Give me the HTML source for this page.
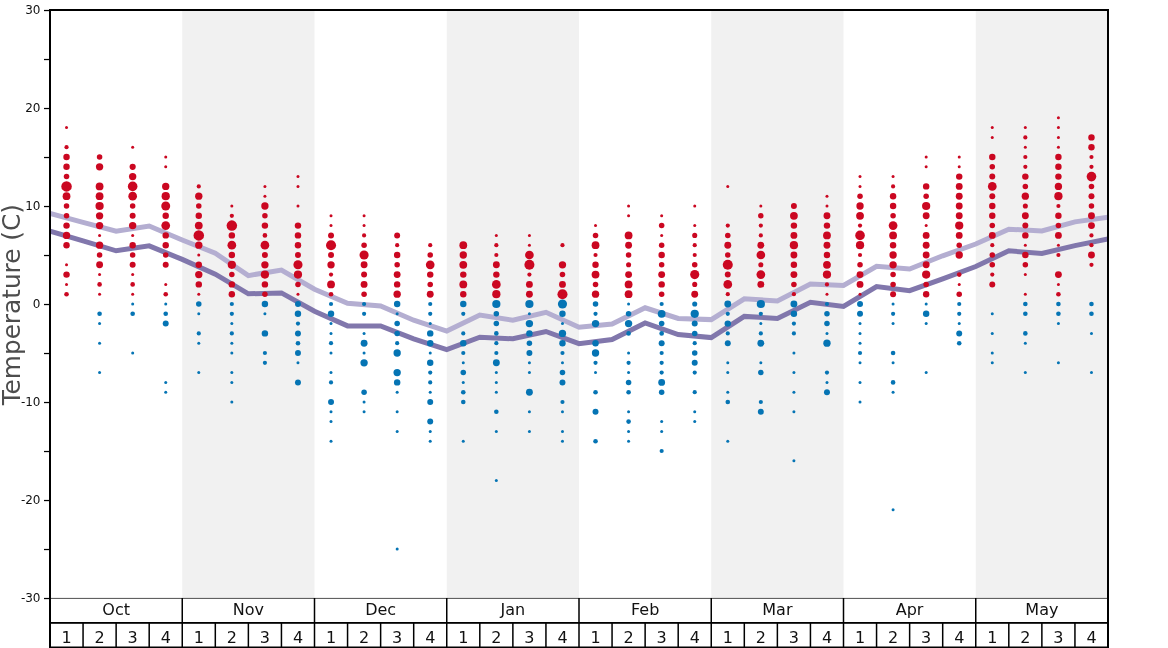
<!DOCTYPE html>
<html lang="en">
<head>
<meta charset="utf-8">
<title>Temperature (C)</title>
<style>
html,body{margin:0;padding:0;background:#fff;}
body{width:1168px;height:648px;overflow:hidden;}
svg{display:block;}
text{font-family:"DejaVu Sans","Liberation Sans",sans-serif;}
</style>
</head>
<body>
<svg width="1168" height="648" viewBox="0 0 1168 648">
<rect x="0" y="0" width="1168" height="648" fill="#ffffff"/>

<g fill="#f1f1f1">
<rect x="182.25" y="10" width="132.25" height="588"/>
<rect x="446.75" y="10" width="132.25" height="588"/>
<rect x="711.25" y="10" width="132.25" height="588"/>
<rect x="975.75" y="10" width="132.25" height="588"/>
</g>
<clipPath id="pa"><rect x="50" y="10" width="1058" height="588"/></clipPath>
<g clip-path="url(#pa)">
<polyline points="50.00,213.5 83.06,222.4 116.12,231.2 149.19,226.0 182.25,240.0 215.31,253.3 248.38,275.6 281.44,270.0 314.50,289.2 347.56,303.3 380.62,306.0 413.69,320.2 446.75,331.1 479.81,315.0 512.88,320.2 545.94,312.3 579.00,327.3 612.06,324.1 645.12,307.8 678.19,318.4 711.25,319.6 744.31,298.8 777.38,301.0 810.44,284.1 843.50,285.4 876.56,266.3 909.62,269.0 942.69,255.8 975.75,244.0 1008.81,229.2 1041.88,231.0 1074.94,221.9 1108.00,217.1" fill="none" stroke="#b4aed1" stroke-width="5" stroke-linejoin="miter" stroke-linecap="butt"/>
<polyline points="50.00,231.2 83.06,240.9 116.12,250.8 149.19,245.9 182.25,259.4 215.31,274.1 248.38,293.8 281.44,292.9 314.50,311.3 347.56,325.9 380.62,325.9 413.69,338.8 446.75,349.6 479.81,337.2 512.88,338.8 545.94,331.5 579.00,343.7 612.06,339.5 645.12,323.0 678.19,334.5 711.25,337.6 744.31,316.4 777.38,318.4 810.44,302.2 843.50,306.4 876.56,286.5 909.62,290.7 942.69,278.8 975.75,266.5 1008.81,250.8 1041.88,253.5 1074.94,245.6 1108.00,239.0" fill="none" stroke="#8177ac" stroke-width="5" stroke-linejoin="miter" stroke-linecap="butt"/>
</g>
<g fill="#cb0721">
<circle cx="66.53" cy="127.6" r="1.50"/>
<circle cx="66.53" cy="147.2" r="2.09"/>
<circle cx="66.53" cy="157.0" r="3.22"/>
<circle cx="66.53" cy="166.8" r="3.22"/>
<circle cx="66.53" cy="176.6" r="2.76"/>
<circle cx="66.53" cy="186.4" r="5.25"/>
<circle cx="66.53" cy="196.2" r="3.90"/>
<circle cx="66.53" cy="206.0" r="2.76"/>
<circle cx="66.53" cy="215.8" r="2.76"/>
<circle cx="66.53" cy="225.6" r="3.22"/>
<circle cx="66.53" cy="235.4" r="3.67"/>
<circle cx="66.53" cy="245.2" r="3.22"/>
<circle cx="66.53" cy="264.8" r="1.50"/>
<circle cx="66.53" cy="274.6" r="3.22"/>
<circle cx="66.53" cy="284.4" r="1.50"/>
<circle cx="66.53" cy="294.2" r="2.31"/>
<circle cx="99.59" cy="157.0" r="2.76"/>
<circle cx="99.59" cy="166.8" r="3.67"/>
<circle cx="99.59" cy="186.4" r="3.90"/>
<circle cx="99.59" cy="196.2" r="3.90"/>
<circle cx="99.59" cy="206.0" r="4.12"/>
<circle cx="99.59" cy="215.8" r="3.67"/>
<circle cx="99.59" cy="225.6" r="3.67"/>
<circle cx="99.59" cy="235.4" r="1.50"/>
<circle cx="99.59" cy="245.2" r="3.67"/>
<circle cx="99.59" cy="255.0" r="2.76"/>
<circle cx="99.59" cy="264.8" r="3.44"/>
<circle cx="99.59" cy="274.6" r="1.50"/>
<circle cx="99.59" cy="284.4" r="2.31"/>
<circle cx="99.59" cy="294.2" r="1.50"/>
<circle cx="132.66" cy="147.2" r="1.50"/>
<circle cx="132.66" cy="166.8" r="3.10"/>
<circle cx="132.66" cy="176.6" r="3.67"/>
<circle cx="132.66" cy="186.4" r="4.80"/>
<circle cx="132.66" cy="196.2" r="4.35"/>
<circle cx="132.66" cy="206.0" r="2.76"/>
<circle cx="132.66" cy="215.8" r="2.99"/>
<circle cx="132.66" cy="225.6" r="3.67"/>
<circle cx="132.66" cy="235.4" r="1.50"/>
<circle cx="132.66" cy="245.2" r="3.22"/>
<circle cx="132.66" cy="255.0" r="2.76"/>
<circle cx="132.66" cy="264.8" r="2.99"/>
<circle cx="132.66" cy="274.6" r="1.50"/>
<circle cx="132.66" cy="284.4" r="2.31"/>
<circle cx="132.66" cy="294.2" r="1.50"/>
<circle cx="165.72" cy="157.0" r="1.50"/>
<circle cx="165.72" cy="166.8" r="1.50"/>
<circle cx="165.72" cy="186.4" r="3.67"/>
<circle cx="165.72" cy="196.2" r="4.12"/>
<circle cx="165.72" cy="206.0" r="4.46"/>
<circle cx="165.72" cy="215.8" r="3.22"/>
<circle cx="165.72" cy="225.6" r="4.35"/>
<circle cx="165.72" cy="235.4" r="3.22"/>
<circle cx="165.72" cy="245.2" r="3.22"/>
<circle cx="165.72" cy="255.0" r="2.76"/>
<circle cx="165.72" cy="264.8" r="2.99"/>
<circle cx="165.72" cy="284.4" r="1.50"/>
<circle cx="165.72" cy="294.2" r="2.31"/>
<circle cx="198.78" cy="186.4" r="2.09"/>
<circle cx="198.78" cy="196.2" r="3.67"/>
<circle cx="198.78" cy="206.0" r="2.76"/>
<circle cx="198.78" cy="215.8" r="3.22"/>
<circle cx="198.78" cy="225.6" r="3.90"/>
<circle cx="198.78" cy="235.4" r="5.25"/>
<circle cx="198.78" cy="245.2" r="3.67"/>
<circle cx="198.78" cy="255.0" r="1.50"/>
<circle cx="198.78" cy="264.8" r="3.22"/>
<circle cx="198.78" cy="274.6" r="3.67"/>
<circle cx="198.78" cy="284.4" r="3.22"/>
<circle cx="198.78" cy="294.2" r="1.50"/>
<circle cx="231.84" cy="206.0" r="1.50"/>
<circle cx="231.84" cy="215.8" r="2.09"/>
<circle cx="231.84" cy="225.6" r="5.25"/>
<circle cx="231.84" cy="235.4" r="3.22"/>
<circle cx="231.84" cy="245.2" r="4.35"/>
<circle cx="231.84" cy="255.0" r="3.22"/>
<circle cx="231.84" cy="264.8" r="4.12"/>
<circle cx="231.84" cy="274.6" r="2.76"/>
<circle cx="231.84" cy="284.4" r="3.22"/>
<circle cx="231.84" cy="294.2" r="3.22"/>
<circle cx="264.91" cy="186.4" r="1.50"/>
<circle cx="264.91" cy="196.2" r="1.50"/>
<circle cx="264.91" cy="206.0" r="3.67"/>
<circle cx="264.91" cy="215.8" r="2.76"/>
<circle cx="264.91" cy="225.6" r="3.22"/>
<circle cx="264.91" cy="235.4" r="2.31"/>
<circle cx="264.91" cy="245.2" r="4.35"/>
<circle cx="264.91" cy="255.0" r="2.99"/>
<circle cx="264.91" cy="264.8" r="3.67"/>
<circle cx="264.91" cy="274.6" r="4.12"/>
<circle cx="264.91" cy="284.4" r="3.22"/>
<circle cx="264.91" cy="294.2" r="2.76"/>
<circle cx="297.97" cy="176.6" r="1.50"/>
<circle cx="297.97" cy="186.4" r="1.50"/>
<circle cx="297.97" cy="206.0" r="1.50"/>
<circle cx="297.97" cy="225.6" r="3.22"/>
<circle cx="297.97" cy="235.4" r="3.22"/>
<circle cx="297.97" cy="245.2" r="3.22"/>
<circle cx="297.97" cy="255.0" r="2.99"/>
<circle cx="297.97" cy="264.8" r="4.57"/>
<circle cx="297.97" cy="274.6" r="4.12"/>
<circle cx="297.97" cy="284.4" r="2.76"/>
<circle cx="297.97" cy="294.2" r="1.50"/>
<circle cx="331.03" cy="215.8" r="1.50"/>
<circle cx="331.03" cy="225.6" r="1.50"/>
<circle cx="331.03" cy="235.4" r="2.99"/>
<circle cx="331.03" cy="245.2" r="5.03"/>
<circle cx="331.03" cy="255.0" r="2.99"/>
<circle cx="331.03" cy="264.8" r="3.67"/>
<circle cx="331.03" cy="274.6" r="2.09"/>
<circle cx="331.03" cy="284.4" r="3.90"/>
<circle cx="331.03" cy="294.2" r="2.31"/>
<circle cx="364.09" cy="215.8" r="1.50"/>
<circle cx="364.09" cy="225.6" r="1.50"/>
<circle cx="364.09" cy="235.4" r="2.09"/>
<circle cx="364.09" cy="245.2" r="2.76"/>
<circle cx="364.09" cy="255.0" r="4.57"/>
<circle cx="364.09" cy="264.8" r="3.44"/>
<circle cx="364.09" cy="274.6" r="2.99"/>
<circle cx="364.09" cy="284.4" r="3.44"/>
<circle cx="364.09" cy="294.2" r="2.76"/>
<circle cx="397.16" cy="235.4" r="2.99"/>
<circle cx="397.16" cy="245.2" r="2.09"/>
<circle cx="397.16" cy="255.0" r="3.22"/>
<circle cx="397.16" cy="264.8" r="2.76"/>
<circle cx="397.16" cy="274.6" r="3.44"/>
<circle cx="397.16" cy="284.4" r="3.22"/>
<circle cx="397.16" cy="294.2" r="3.67"/>
<circle cx="430.22" cy="245.2" r="2.09"/>
<circle cx="430.22" cy="255.0" r="2.76"/>
<circle cx="430.22" cy="264.8" r="4.35"/>
<circle cx="430.22" cy="274.6" r="3.22"/>
<circle cx="430.22" cy="284.4" r="2.76"/>
<circle cx="430.22" cy="294.2" r="3.44"/>
<circle cx="463.28" cy="245.2" r="3.90"/>
<circle cx="463.28" cy="255.0" r="3.67"/>
<circle cx="463.28" cy="264.8" r="3.90"/>
<circle cx="463.28" cy="274.6" r="3.22"/>
<circle cx="463.28" cy="284.4" r="3.90"/>
<circle cx="463.28" cy="294.2" r="3.22"/>
<circle cx="496.34" cy="235.4" r="1.50"/>
<circle cx="496.34" cy="245.2" r="2.09"/>
<circle cx="496.34" cy="255.0" r="2.09"/>
<circle cx="496.34" cy="264.8" r="3.44"/>
<circle cx="496.34" cy="274.6" r="3.22"/>
<circle cx="496.34" cy="284.4" r="4.35"/>
<circle cx="496.34" cy="294.2" r="4.12"/>
<circle cx="529.41" cy="235.4" r="1.50"/>
<circle cx="529.41" cy="245.2" r="1.50"/>
<circle cx="529.41" cy="255.0" r="4.35"/>
<circle cx="529.41" cy="264.8" r="5.03"/>
<circle cx="529.41" cy="274.6" r="2.09"/>
<circle cx="529.41" cy="284.4" r="3.44"/>
<circle cx="529.41" cy="294.2" r="3.44"/>
<circle cx="562.47" cy="245.2" r="2.09"/>
<circle cx="562.47" cy="264.8" r="3.67"/>
<circle cx="562.47" cy="274.6" r="2.76"/>
<circle cx="562.47" cy="284.4" r="3.44"/>
<circle cx="562.47" cy="294.2" r="5.03"/>
<circle cx="595.53" cy="225.6" r="1.50"/>
<circle cx="595.53" cy="235.4" r="2.76"/>
<circle cx="595.53" cy="245.2" r="3.90"/>
<circle cx="595.53" cy="255.0" r="2.09"/>
<circle cx="595.53" cy="264.8" r="3.22"/>
<circle cx="595.53" cy="274.6" r="3.90"/>
<circle cx="595.53" cy="284.4" r="2.76"/>
<circle cx="595.53" cy="294.2" r="3.67"/>
<circle cx="628.59" cy="206.0" r="1.50"/>
<circle cx="628.59" cy="215.8" r="1.50"/>
<circle cx="628.59" cy="235.4" r="3.90"/>
<circle cx="628.59" cy="245.2" r="3.44"/>
<circle cx="628.59" cy="255.0" r="2.76"/>
<circle cx="628.59" cy="264.8" r="2.54"/>
<circle cx="628.59" cy="274.6" r="3.44"/>
<circle cx="628.59" cy="284.4" r="3.90"/>
<circle cx="628.59" cy="294.2" r="3.90"/>
<circle cx="661.66" cy="215.8" r="1.50"/>
<circle cx="661.66" cy="225.6" r="2.76"/>
<circle cx="661.66" cy="235.4" r="1.50"/>
<circle cx="661.66" cy="245.2" r="2.76"/>
<circle cx="661.66" cy="255.0" r="3.22"/>
<circle cx="661.66" cy="264.8" r="2.76"/>
<circle cx="661.66" cy="274.6" r="3.44"/>
<circle cx="661.66" cy="284.4" r="3.22"/>
<circle cx="661.66" cy="294.2" r="2.76"/>
<circle cx="694.72" cy="206.0" r="1.50"/>
<circle cx="694.72" cy="225.6" r="1.50"/>
<circle cx="694.72" cy="235.4" r="2.54"/>
<circle cx="694.72" cy="245.2" r="2.09"/>
<circle cx="694.72" cy="255.0" r="2.09"/>
<circle cx="694.72" cy="264.8" r="2.76"/>
<circle cx="694.72" cy="274.6" r="4.57"/>
<circle cx="694.72" cy="284.4" r="2.54"/>
<circle cx="694.72" cy="294.2" r="3.44"/>
<circle cx="727.78" cy="186.4" r="1.50"/>
<circle cx="727.78" cy="225.6" r="2.09"/>
<circle cx="727.78" cy="235.4" r="2.76"/>
<circle cx="727.78" cy="245.2" r="3.44"/>
<circle cx="727.78" cy="255.0" r="2.76"/>
<circle cx="727.78" cy="264.8" r="5.03"/>
<circle cx="727.78" cy="274.6" r="2.99"/>
<circle cx="727.78" cy="284.4" r="4.35"/>
<circle cx="727.78" cy="294.2" r="2.09"/>
<circle cx="760.84" cy="206.0" r="1.50"/>
<circle cx="760.84" cy="215.8" r="2.76"/>
<circle cx="760.84" cy="225.6" r="2.09"/>
<circle cx="760.84" cy="235.4" r="2.09"/>
<circle cx="760.84" cy="245.2" r="3.44"/>
<circle cx="760.84" cy="255.0" r="4.35"/>
<circle cx="760.84" cy="264.8" r="2.54"/>
<circle cx="760.84" cy="274.6" r="4.35"/>
<circle cx="760.84" cy="284.4" r="3.44"/>
<circle cx="793.91" cy="206.0" r="2.99"/>
<circle cx="793.91" cy="215.8" r="3.90"/>
<circle cx="793.91" cy="225.6" r="3.22"/>
<circle cx="793.91" cy="235.4" r="3.44"/>
<circle cx="793.91" cy="245.2" r="4.12"/>
<circle cx="793.91" cy="255.0" r="3.44"/>
<circle cx="793.91" cy="264.8" r="3.22"/>
<circle cx="793.91" cy="274.6" r="3.44"/>
<circle cx="793.91" cy="284.4" r="2.76"/>
<circle cx="793.91" cy="294.2" r="2.09"/>
<circle cx="826.97" cy="196.2" r="1.50"/>
<circle cx="826.97" cy="206.0" r="1.50"/>
<circle cx="826.97" cy="215.8" r="3.44"/>
<circle cx="826.97" cy="225.6" r="3.22"/>
<circle cx="826.97" cy="235.4" r="3.90"/>
<circle cx="826.97" cy="245.2" r="3.44"/>
<circle cx="826.97" cy="255.0" r="3.22"/>
<circle cx="826.97" cy="264.8" r="3.90"/>
<circle cx="826.97" cy="274.6" r="4.12"/>
<circle cx="826.97" cy="284.4" r="2.09"/>
<circle cx="826.97" cy="294.2" r="1.50"/>
<circle cx="860.03" cy="176.6" r="1.50"/>
<circle cx="860.03" cy="186.4" r="1.50"/>
<circle cx="860.03" cy="196.2" r="2.76"/>
<circle cx="860.03" cy="206.0" r="3.67"/>
<circle cx="860.03" cy="215.8" r="3.90"/>
<circle cx="860.03" cy="225.6" r="2.09"/>
<circle cx="860.03" cy="235.4" r="4.80"/>
<circle cx="860.03" cy="245.2" r="4.12"/>
<circle cx="860.03" cy="255.0" r="2.09"/>
<circle cx="860.03" cy="264.8" r="2.76"/>
<circle cx="860.03" cy="274.6" r="3.44"/>
<circle cx="860.03" cy="284.4" r="3.44"/>
<circle cx="860.03" cy="294.2" r="1.50"/>
<circle cx="893.09" cy="176.6" r="1.50"/>
<circle cx="893.09" cy="186.4" r="2.09"/>
<circle cx="893.09" cy="196.2" r="3.22"/>
<circle cx="893.09" cy="206.0" r="3.22"/>
<circle cx="893.09" cy="215.8" r="2.76"/>
<circle cx="893.09" cy="225.6" r="4.35"/>
<circle cx="893.09" cy="235.4" r="3.90"/>
<circle cx="893.09" cy="245.2" r="3.22"/>
<circle cx="893.09" cy="255.0" r="3.67"/>
<circle cx="893.09" cy="264.8" r="3.67"/>
<circle cx="893.09" cy="274.6" r="2.76"/>
<circle cx="893.09" cy="284.4" r="2.76"/>
<circle cx="893.09" cy="294.2" r="2.99"/>
<circle cx="926.16" cy="157.0" r="1.50"/>
<circle cx="926.16" cy="166.8" r="1.50"/>
<circle cx="926.16" cy="186.4" r="3.22"/>
<circle cx="926.16" cy="196.2" r="2.76"/>
<circle cx="926.16" cy="206.0" r="4.12"/>
<circle cx="926.16" cy="215.8" r="3.44"/>
<circle cx="926.16" cy="225.6" r="1.50"/>
<circle cx="926.16" cy="235.4" r="3.44"/>
<circle cx="926.16" cy="245.2" r="3.44"/>
<circle cx="926.16" cy="255.0" r="3.44"/>
<circle cx="926.16" cy="264.8" r="3.44"/>
<circle cx="926.16" cy="274.6" r="4.12"/>
<circle cx="926.16" cy="284.4" r="2.76"/>
<circle cx="926.16" cy="294.2" r="3.22"/>
<circle cx="959.22" cy="157.0" r="1.50"/>
<circle cx="959.22" cy="166.8" r="1.50"/>
<circle cx="959.22" cy="176.6" r="3.22"/>
<circle cx="959.22" cy="186.4" r="3.44"/>
<circle cx="959.22" cy="196.2" r="3.44"/>
<circle cx="959.22" cy="206.0" r="3.44"/>
<circle cx="959.22" cy="215.8" r="3.44"/>
<circle cx="959.22" cy="225.6" r="4.12"/>
<circle cx="959.22" cy="235.4" r="3.44"/>
<circle cx="959.22" cy="245.2" r="2.76"/>
<circle cx="959.22" cy="255.0" r="3.67"/>
<circle cx="959.22" cy="274.6" r="2.31"/>
<circle cx="959.22" cy="284.4" r="1.50"/>
<circle cx="959.22" cy="294.2" r="2.76"/>
<circle cx="992.28" cy="127.6" r="1.50"/>
<circle cx="992.28" cy="137.4" r="1.50"/>
<circle cx="992.28" cy="157.0" r="3.22"/>
<circle cx="992.28" cy="166.8" r="2.76"/>
<circle cx="992.28" cy="176.6" r="2.99"/>
<circle cx="992.28" cy="186.4" r="4.35"/>
<circle cx="992.28" cy="196.2" r="2.99"/>
<circle cx="992.28" cy="206.0" r="3.22"/>
<circle cx="992.28" cy="215.8" r="3.22"/>
<circle cx="992.28" cy="225.6" r="2.76"/>
<circle cx="992.28" cy="235.4" r="3.44"/>
<circle cx="992.28" cy="245.2" r="2.09"/>
<circle cx="992.28" cy="255.0" r="2.76"/>
<circle cx="992.28" cy="264.8" r="2.76"/>
<circle cx="992.28" cy="274.6" r="2.09"/>
<circle cx="992.28" cy="284.4" r="2.99"/>
<circle cx="1025.34" cy="127.6" r="1.50"/>
<circle cx="1025.34" cy="137.4" r="2.09"/>
<circle cx="1025.34" cy="147.2" r="1.50"/>
<circle cx="1025.34" cy="157.0" r="2.09"/>
<circle cx="1025.34" cy="166.8" r="2.09"/>
<circle cx="1025.34" cy="176.6" r="3.22"/>
<circle cx="1025.34" cy="186.4" r="2.76"/>
<circle cx="1025.34" cy="196.2" r="3.67"/>
<circle cx="1025.34" cy="206.0" r="2.54"/>
<circle cx="1025.34" cy="215.8" r="3.44"/>
<circle cx="1025.34" cy="225.6" r="2.99"/>
<circle cx="1025.34" cy="235.4" r="3.22"/>
<circle cx="1025.34" cy="245.2" r="1.50"/>
<circle cx="1025.34" cy="255.0" r="3.22"/>
<circle cx="1025.34" cy="264.8" r="2.76"/>
<circle cx="1025.34" cy="274.6" r="1.50"/>
<circle cx="1025.34" cy="294.2" r="1.50"/>
<circle cx="1058.41" cy="117.8" r="1.50"/>
<circle cx="1058.41" cy="127.6" r="1.50"/>
<circle cx="1058.41" cy="137.4" r="1.50"/>
<circle cx="1058.41" cy="147.2" r="1.50"/>
<circle cx="1058.41" cy="157.0" r="3.22"/>
<circle cx="1058.41" cy="166.8" r="3.22"/>
<circle cx="1058.41" cy="176.6" r="3.22"/>
<circle cx="1058.41" cy="186.4" r="3.67"/>
<circle cx="1058.41" cy="196.2" r="4.12"/>
<circle cx="1058.41" cy="206.0" r="2.09"/>
<circle cx="1058.41" cy="215.8" r="3.22"/>
<circle cx="1058.41" cy="225.6" r="2.76"/>
<circle cx="1058.41" cy="235.4" r="3.44"/>
<circle cx="1058.41" cy="245.2" r="1.50"/>
<circle cx="1058.41" cy="255.0" r="2.09"/>
<circle cx="1058.41" cy="274.6" r="3.44"/>
<circle cx="1058.41" cy="284.4" r="1.50"/>
<circle cx="1058.41" cy="294.2" r="2.31"/>
<circle cx="1091.47" cy="137.4" r="3.22"/>
<circle cx="1091.47" cy="147.2" r="3.22"/>
<circle cx="1091.47" cy="157.0" r="2.09"/>
<circle cx="1091.47" cy="166.8" r="2.09"/>
<circle cx="1091.47" cy="176.6" r="4.80"/>
<circle cx="1091.47" cy="186.4" r="2.76"/>
<circle cx="1091.47" cy="196.2" r="2.99"/>
<circle cx="1091.47" cy="206.0" r="2.76"/>
<circle cx="1091.47" cy="215.8" r="3.44"/>
<circle cx="1091.47" cy="225.6" r="3.44"/>
<circle cx="1091.47" cy="235.4" r="2.09"/>
<circle cx="1091.47" cy="245.2" r="2.09"/>
<circle cx="1091.47" cy="255.0" r="3.44"/>
<circle cx="1091.47" cy="264.8" r="2.09"/>
</g>
<g fill="#0574b4">
<circle cx="99.59" cy="313.8" r="2.31"/>
<circle cx="99.59" cy="323.6" r="1.50"/>
<circle cx="99.59" cy="343.2" r="1.50"/>
<circle cx="99.59" cy="372.6" r="1.50"/>
<circle cx="132.66" cy="304.0" r="1.50"/>
<circle cx="132.66" cy="313.8" r="2.31"/>
<circle cx="132.66" cy="353.0" r="1.50"/>
<circle cx="165.72" cy="304.0" r="1.50"/>
<circle cx="165.72" cy="313.8" r="2.31"/>
<circle cx="165.72" cy="323.6" r="2.99"/>
<circle cx="165.72" cy="382.4" r="1.50"/>
<circle cx="165.72" cy="392.2" r="1.50"/>
<circle cx="198.78" cy="304.0" r="2.76"/>
<circle cx="198.78" cy="313.8" r="1.50"/>
<circle cx="198.78" cy="333.4" r="2.09"/>
<circle cx="198.78" cy="343.2" r="1.50"/>
<circle cx="198.78" cy="372.6" r="1.50"/>
<circle cx="231.84" cy="304.0" r="2.09"/>
<circle cx="231.84" cy="313.8" r="2.09"/>
<circle cx="231.84" cy="323.6" r="1.50"/>
<circle cx="231.84" cy="333.4" r="2.09"/>
<circle cx="231.84" cy="343.2" r="1.50"/>
<circle cx="231.84" cy="353.0" r="1.50"/>
<circle cx="231.84" cy="372.6" r="1.50"/>
<circle cx="231.84" cy="382.4" r="1.50"/>
<circle cx="231.84" cy="402.0" r="1.50"/>
<circle cx="264.91" cy="304.0" r="3.22"/>
<circle cx="264.91" cy="313.8" r="1.50"/>
<circle cx="264.91" cy="333.4" r="3.22"/>
<circle cx="264.91" cy="353.0" r="2.09"/>
<circle cx="264.91" cy="362.8" r="2.09"/>
<circle cx="297.97" cy="304.0" r="2.99"/>
<circle cx="297.97" cy="313.8" r="3.22"/>
<circle cx="297.97" cy="323.6" r="2.09"/>
<circle cx="297.97" cy="333.4" r="2.99"/>
<circle cx="297.97" cy="343.2" r="2.31"/>
<circle cx="297.97" cy="353.0" r="2.99"/>
<circle cx="297.97" cy="362.8" r="1.50"/>
<circle cx="297.97" cy="382.4" r="2.99"/>
<circle cx="331.03" cy="304.0" r="2.09"/>
<circle cx="331.03" cy="313.8" r="3.22"/>
<circle cx="331.03" cy="323.6" r="1.50"/>
<circle cx="331.03" cy="333.4" r="1.50"/>
<circle cx="331.03" cy="343.2" r="2.09"/>
<circle cx="331.03" cy="353.0" r="1.50"/>
<circle cx="331.03" cy="372.6" r="1.50"/>
<circle cx="331.03" cy="382.4" r="2.09"/>
<circle cx="331.03" cy="402.0" r="2.99"/>
<circle cx="331.03" cy="411.8" r="1.50"/>
<circle cx="331.03" cy="421.6" r="1.50"/>
<circle cx="331.03" cy="441.2" r="1.50"/>
<circle cx="364.09" cy="304.0" r="2.09"/>
<circle cx="364.09" cy="313.8" r="2.09"/>
<circle cx="364.09" cy="333.4" r="1.50"/>
<circle cx="364.09" cy="343.2" r="3.44"/>
<circle cx="364.09" cy="353.0" r="1.50"/>
<circle cx="364.09" cy="362.8" r="3.67"/>
<circle cx="364.09" cy="392.2" r="2.76"/>
<circle cx="364.09" cy="402.0" r="1.50"/>
<circle cx="364.09" cy="411.8" r="1.50"/>
<circle cx="397.16" cy="304.0" r="3.22"/>
<circle cx="397.16" cy="313.8" r="1.50"/>
<circle cx="397.16" cy="323.6" r="2.76"/>
<circle cx="397.16" cy="333.4" r="2.76"/>
<circle cx="397.16" cy="343.2" r="2.09"/>
<circle cx="397.16" cy="353.0" r="3.67"/>
<circle cx="397.16" cy="372.6" r="3.67"/>
<circle cx="397.16" cy="382.4" r="3.22"/>
<circle cx="397.16" cy="392.2" r="1.50"/>
<circle cx="397.16" cy="411.8" r="1.50"/>
<circle cx="397.16" cy="431.4" r="1.50"/>
<circle cx="397.16" cy="549.0" r="1.50"/>
<circle cx="430.22" cy="304.0" r="2.09"/>
<circle cx="430.22" cy="313.8" r="2.09"/>
<circle cx="430.22" cy="323.6" r="1.50"/>
<circle cx="430.22" cy="333.4" r="3.22"/>
<circle cx="430.22" cy="343.2" r="3.22"/>
<circle cx="430.22" cy="353.0" r="1.50"/>
<circle cx="430.22" cy="362.8" r="3.22"/>
<circle cx="430.22" cy="372.6" r="2.09"/>
<circle cx="430.22" cy="382.4" r="2.09"/>
<circle cx="430.22" cy="392.2" r="1.50"/>
<circle cx="430.22" cy="402.0" r="2.99"/>
<circle cx="430.22" cy="421.6" r="2.99"/>
<circle cx="430.22" cy="431.4" r="1.50"/>
<circle cx="430.22" cy="441.2" r="1.50"/>
<circle cx="463.28" cy="304.0" r="3.22"/>
<circle cx="463.28" cy="313.8" r="2.09"/>
<circle cx="463.28" cy="333.4" r="2.09"/>
<circle cx="463.28" cy="343.2" r="3.22"/>
<circle cx="463.28" cy="353.0" r="2.09"/>
<circle cx="463.28" cy="362.8" r="1.50"/>
<circle cx="463.28" cy="372.6" r="2.76"/>
<circle cx="463.28" cy="382.4" r="1.50"/>
<circle cx="463.28" cy="392.2" r="2.31"/>
<circle cx="463.28" cy="402.0" r="2.31"/>
<circle cx="463.28" cy="441.2" r="1.50"/>
<circle cx="496.34" cy="304.0" r="4.12"/>
<circle cx="496.34" cy="313.8" r="2.76"/>
<circle cx="496.34" cy="323.6" r="2.76"/>
<circle cx="496.34" cy="333.4" r="2.31"/>
<circle cx="496.34" cy="343.2" r="2.09"/>
<circle cx="496.34" cy="353.0" r="2.09"/>
<circle cx="496.34" cy="362.8" r="3.44"/>
<circle cx="496.34" cy="372.6" r="1.50"/>
<circle cx="496.34" cy="382.4" r="1.50"/>
<circle cx="496.34" cy="392.2" r="1.50"/>
<circle cx="496.34" cy="411.8" r="2.31"/>
<circle cx="496.34" cy="431.4" r="1.50"/>
<circle cx="496.34" cy="480.4" r="1.50"/>
<circle cx="529.41" cy="304.0" r="4.12"/>
<circle cx="529.41" cy="313.8" r="1.50"/>
<circle cx="529.41" cy="323.6" r="3.67"/>
<circle cx="529.41" cy="333.4" r="3.22"/>
<circle cx="529.41" cy="343.2" r="2.76"/>
<circle cx="529.41" cy="353.0" r="2.99"/>
<circle cx="529.41" cy="362.8" r="1.50"/>
<circle cx="529.41" cy="372.6" r="1.50"/>
<circle cx="529.41" cy="392.2" r="3.44"/>
<circle cx="529.41" cy="411.8" r="1.50"/>
<circle cx="529.41" cy="431.4" r="1.50"/>
<circle cx="562.47" cy="304.0" r="4.57"/>
<circle cx="562.47" cy="313.8" r="3.22"/>
<circle cx="562.47" cy="323.6" r="1.50"/>
<circle cx="562.47" cy="333.4" r="3.67"/>
<circle cx="562.47" cy="343.2" r="3.22"/>
<circle cx="562.47" cy="353.0" r="2.09"/>
<circle cx="562.47" cy="362.8" r="1.50"/>
<circle cx="562.47" cy="372.6" r="2.76"/>
<circle cx="562.47" cy="382.4" r="2.99"/>
<circle cx="562.47" cy="402.0" r="2.09"/>
<circle cx="562.47" cy="411.8" r="1.50"/>
<circle cx="562.47" cy="431.4" r="1.50"/>
<circle cx="562.47" cy="441.2" r="1.50"/>
<circle cx="595.53" cy="304.0" r="2.76"/>
<circle cx="595.53" cy="313.8" r="2.09"/>
<circle cx="595.53" cy="323.6" r="3.67"/>
<circle cx="595.53" cy="343.2" r="3.22"/>
<circle cx="595.53" cy="353.0" r="3.67"/>
<circle cx="595.53" cy="362.8" r="2.09"/>
<circle cx="595.53" cy="372.6" r="1.50"/>
<circle cx="595.53" cy="392.2" r="2.31"/>
<circle cx="595.53" cy="411.8" r="2.99"/>
<circle cx="595.53" cy="441.2" r="2.31"/>
<circle cx="628.59" cy="304.0" r="1.50"/>
<circle cx="628.59" cy="313.8" r="2.76"/>
<circle cx="628.59" cy="323.6" r="3.67"/>
<circle cx="628.59" cy="333.4" r="2.31"/>
<circle cx="628.59" cy="353.0" r="1.50"/>
<circle cx="628.59" cy="362.8" r="2.09"/>
<circle cx="628.59" cy="372.6" r="1.50"/>
<circle cx="628.59" cy="382.4" r="2.76"/>
<circle cx="628.59" cy="392.2" r="2.31"/>
<circle cx="628.59" cy="411.8" r="1.50"/>
<circle cx="628.59" cy="421.6" r="2.31"/>
<circle cx="628.59" cy="431.4" r="1.50"/>
<circle cx="628.59" cy="441.2" r="1.50"/>
<circle cx="661.66" cy="304.0" r="2.09"/>
<circle cx="661.66" cy="313.8" r="3.90"/>
<circle cx="661.66" cy="323.6" r="2.76"/>
<circle cx="661.66" cy="333.4" r="2.31"/>
<circle cx="661.66" cy="343.2" r="2.99"/>
<circle cx="661.66" cy="353.0" r="2.09"/>
<circle cx="661.66" cy="362.8" r="2.09"/>
<circle cx="661.66" cy="372.6" r="2.09"/>
<circle cx="661.66" cy="382.4" r="3.44"/>
<circle cx="661.66" cy="392.2" r="2.76"/>
<circle cx="661.66" cy="421.6" r="1.50"/>
<circle cx="661.66" cy="431.4" r="1.50"/>
<circle cx="661.66" cy="451.0" r="2.09"/>
<circle cx="694.72" cy="304.0" r="2.54"/>
<circle cx="694.72" cy="313.8" r="4.12"/>
<circle cx="694.72" cy="323.6" r="2.99"/>
<circle cx="694.72" cy="333.4" r="2.76"/>
<circle cx="694.72" cy="343.2" r="2.09"/>
<circle cx="694.72" cy="353.0" r="2.76"/>
<circle cx="694.72" cy="362.8" r="2.99"/>
<circle cx="694.72" cy="372.6" r="2.09"/>
<circle cx="694.72" cy="392.2" r="2.09"/>
<circle cx="694.72" cy="411.8" r="1.50"/>
<circle cx="694.72" cy="421.6" r="1.50"/>
<circle cx="727.78" cy="304.0" r="3.44"/>
<circle cx="727.78" cy="313.8" r="2.09"/>
<circle cx="727.78" cy="323.6" r="3.22"/>
<circle cx="727.78" cy="333.4" r="2.09"/>
<circle cx="727.78" cy="343.2" r="2.99"/>
<circle cx="727.78" cy="362.8" r="1.50"/>
<circle cx="727.78" cy="372.6" r="1.50"/>
<circle cx="727.78" cy="392.2" r="1.50"/>
<circle cx="727.78" cy="402.0" r="2.31"/>
<circle cx="727.78" cy="441.2" r="1.50"/>
<circle cx="760.84" cy="304.0" r="4.12"/>
<circle cx="760.84" cy="313.8" r="2.09"/>
<circle cx="760.84" cy="323.6" r="1.50"/>
<circle cx="760.84" cy="333.4" r="2.09"/>
<circle cx="760.84" cy="343.2" r="3.44"/>
<circle cx="760.84" cy="362.8" r="1.50"/>
<circle cx="760.84" cy="372.6" r="2.76"/>
<circle cx="760.84" cy="402.0" r="2.09"/>
<circle cx="760.84" cy="411.8" r="2.99"/>
<circle cx="793.91" cy="304.0" r="3.44"/>
<circle cx="793.91" cy="313.8" r="3.22"/>
<circle cx="793.91" cy="323.6" r="2.09"/>
<circle cx="793.91" cy="333.4" r="2.09"/>
<circle cx="793.91" cy="353.0" r="1.50"/>
<circle cx="793.91" cy="372.6" r="1.50"/>
<circle cx="793.91" cy="392.2" r="1.50"/>
<circle cx="793.91" cy="411.8" r="1.50"/>
<circle cx="793.91" cy="460.8" r="1.50"/>
<circle cx="826.97" cy="304.0" r="2.09"/>
<circle cx="826.97" cy="313.8" r="2.76"/>
<circle cx="826.97" cy="323.6" r="2.76"/>
<circle cx="826.97" cy="333.4" r="1.50"/>
<circle cx="826.97" cy="343.2" r="3.67"/>
<circle cx="826.97" cy="372.6" r="2.09"/>
<circle cx="826.97" cy="382.4" r="1.50"/>
<circle cx="826.97" cy="392.2" r="2.99"/>
<circle cx="860.03" cy="304.0" r="2.99"/>
<circle cx="860.03" cy="313.8" r="2.99"/>
<circle cx="860.03" cy="323.6" r="1.50"/>
<circle cx="860.03" cy="333.4" r="1.50"/>
<circle cx="860.03" cy="343.2" r="1.50"/>
<circle cx="860.03" cy="353.0" r="2.09"/>
<circle cx="860.03" cy="362.8" r="1.50"/>
<circle cx="860.03" cy="382.4" r="1.50"/>
<circle cx="860.03" cy="402.0" r="1.50"/>
<circle cx="893.09" cy="304.0" r="1.50"/>
<circle cx="893.09" cy="313.8" r="2.09"/>
<circle cx="893.09" cy="323.6" r="1.50"/>
<circle cx="893.09" cy="353.0" r="2.31"/>
<circle cx="893.09" cy="362.8" r="1.50"/>
<circle cx="893.09" cy="382.4" r="2.31"/>
<circle cx="893.09" cy="392.2" r="1.50"/>
<circle cx="893.09" cy="509.8" r="1.50"/>
<circle cx="926.16" cy="304.0" r="1.50"/>
<circle cx="926.16" cy="313.8" r="3.22"/>
<circle cx="926.16" cy="323.6" r="1.50"/>
<circle cx="926.16" cy="372.6" r="1.50"/>
<circle cx="959.22" cy="304.0" r="2.09"/>
<circle cx="959.22" cy="313.8" r="2.09"/>
<circle cx="959.22" cy="323.6" r="1.50"/>
<circle cx="959.22" cy="333.4" r="2.99"/>
<circle cx="959.22" cy="343.2" r="2.31"/>
<circle cx="992.28" cy="313.8" r="1.50"/>
<circle cx="992.28" cy="333.4" r="1.50"/>
<circle cx="992.28" cy="353.0" r="1.50"/>
<circle cx="992.28" cy="362.8" r="1.50"/>
<circle cx="1025.34" cy="304.0" r="2.31"/>
<circle cx="1025.34" cy="313.8" r="2.31"/>
<circle cx="1025.34" cy="333.4" r="2.31"/>
<circle cx="1025.34" cy="343.2" r="1.50"/>
<circle cx="1025.34" cy="372.6" r="1.50"/>
<circle cx="1058.41" cy="304.0" r="2.31"/>
<circle cx="1058.41" cy="313.8" r="2.31"/>
<circle cx="1058.41" cy="323.6" r="1.50"/>
<circle cx="1058.41" cy="362.8" r="1.50"/>
<circle cx="1091.47" cy="304.0" r="2.31"/>
<circle cx="1091.47" cy="313.8" r="2.31"/>
<circle cx="1091.47" cy="333.4" r="1.50"/>
<circle cx="1091.47" cy="372.6" r="1.50"/>
</g>
<rect x="50" y="597.9" width="1058" height="1" fill="#505050"/>
<g fill="#000">
<rect x="49" y="9" width="2" height="639"/>
<rect x="49" y="9" width="1060" height="2"/>
<rect x="1107" y="9" width="2" height="639"/>
<rect x="49" y="622" width="1060" height="1.8"/>
<rect x="49" y="646.5" width="1060" height="2"/>
<rect x="82.31" y="622" width="1.5" height="26"/>
<rect x="115.38" y="622" width="1.5" height="26"/>
<rect x="148.44" y="622" width="1.5" height="26"/>
<rect x="181.50" y="598" width="1.5" height="50"/>
<rect x="214.56" y="622" width="1.5" height="26"/>
<rect x="247.62" y="622" width="1.5" height="26"/>
<rect x="280.69" y="622" width="1.5" height="26"/>
<rect x="313.75" y="598" width="1.5" height="50"/>
<rect x="346.81" y="622" width="1.5" height="26"/>
<rect x="379.88" y="622" width="1.5" height="26"/>
<rect x="412.94" y="622" width="1.5" height="26"/>
<rect x="446.00" y="598" width="1.5" height="50"/>
<rect x="479.06" y="622" width="1.5" height="26"/>
<rect x="512.12" y="622" width="1.5" height="26"/>
<rect x="545.19" y="622" width="1.5" height="26"/>
<rect x="578.25" y="598" width="1.5" height="50"/>
<rect x="611.31" y="622" width="1.5" height="26"/>
<rect x="644.38" y="622" width="1.5" height="26"/>
<rect x="677.44" y="622" width="1.5" height="26"/>
<rect x="710.50" y="598" width="1.5" height="50"/>
<rect x="743.56" y="622" width="1.5" height="26"/>
<rect x="776.62" y="622" width="1.5" height="26"/>
<rect x="809.69" y="622" width="1.5" height="26"/>
<rect x="842.75" y="598" width="1.5" height="50"/>
<rect x="875.81" y="622" width="1.5" height="26"/>
<rect x="908.88" y="622" width="1.5" height="26"/>
<rect x="941.94" y="622" width="1.5" height="26"/>
<rect x="975.00" y="598" width="1.5" height="50"/>
<rect x="1008.06" y="622" width="1.5" height="26"/>
<rect x="1041.12" y="622" width="1.5" height="26"/>
<rect x="1074.19" y="622" width="1.5" height="26"/>
<rect x="44" y="597.9" width="5.5" height="1.25"/>
<rect x="44" y="548.9" width="5.5" height="1.25"/>
<rect x="44" y="499.9" width="5.5" height="1.25"/>
<rect x="44" y="450.9" width="5.5" height="1.25"/>
<rect x="44" y="401.9" width="5.5" height="1.25"/>
<rect x="44" y="352.9" width="5.5" height="1.25"/>
<rect x="44" y="303.9" width="5.5" height="1.25"/>
<rect x="44" y="254.9" width="5.5" height="1.25"/>
<rect x="44" y="205.9" width="5.5" height="1.25"/>
<rect x="44" y="156.9" width="5.5" height="1.25"/>
<rect x="44" y="107.9" width="5.5" height="1.25"/>
<rect x="44" y="58.9" width="5.5" height="1.25"/>
<rect x="44" y="9.9" width="5.5" height="1.25"/>
</g>
<g opacity="0.999">
<g font-size="12" fill="#111111" text-anchor="end">
<text x="40.5" y="602.4">-30</text>
<text x="40.5" y="504.4">-20</text>
<text x="40.5" y="406.4">-10</text>
<text x="40.5" y="308.4">0</text>
<text x="40.5" y="210.4">10</text>
<text x="40.5" y="112.4">20</text>
<text x="40.5" y="14.4">30</text>
</g>
<text transform="translate(19.7,304.7) rotate(-90)" font-size="24.75" fill="#4d4d4d" text-anchor="middle">Temperature (C)</text>
<g font-size="16" fill="#111111" text-anchor="middle">
<text x="116.12" y="615">Oct</text>
<text x="248.38" y="615">Nov</text>
<text x="380.62" y="615">Dec</text>
<text x="512.88" y="615">Jan</text>
<text x="645.12" y="615">Feb</text>
<text x="777.38" y="615">Mar</text>
<text x="909.62" y="615">Apr</text>
<text x="1041.88" y="615">May</text>
<text x="66.53" y="643">1</text>
<text x="99.59" y="643">2</text>
<text x="132.66" y="643">3</text>
<text x="165.72" y="643">4</text>
<text x="198.78" y="643">1</text>
<text x="231.84" y="643">2</text>
<text x="264.91" y="643">3</text>
<text x="297.97" y="643">4</text>
<text x="331.03" y="643">1</text>
<text x="364.09" y="643">2</text>
<text x="397.16" y="643">3</text>
<text x="430.22" y="643">4</text>
<text x="463.28" y="643">1</text>
<text x="496.34" y="643">2</text>
<text x="529.41" y="643">3</text>
<text x="562.47" y="643">4</text>
<text x="595.53" y="643">1</text>
<text x="628.59" y="643">2</text>
<text x="661.66" y="643">3</text>
<text x="694.72" y="643">4</text>
<text x="727.78" y="643">1</text>
<text x="760.84" y="643">2</text>
<text x="793.91" y="643">3</text>
<text x="826.97" y="643">4</text>
<text x="860.03" y="643">1</text>
<text x="893.09" y="643">2</text>
<text x="926.16" y="643">3</text>
<text x="959.22" y="643">4</text>
<text x="992.28" y="643">1</text>
<text x="1025.34" y="643">2</text>
<text x="1058.41" y="643">3</text>
<text x="1091.47" y="643">4</text>
</g>
</g>
</svg>
</body>
</html>
